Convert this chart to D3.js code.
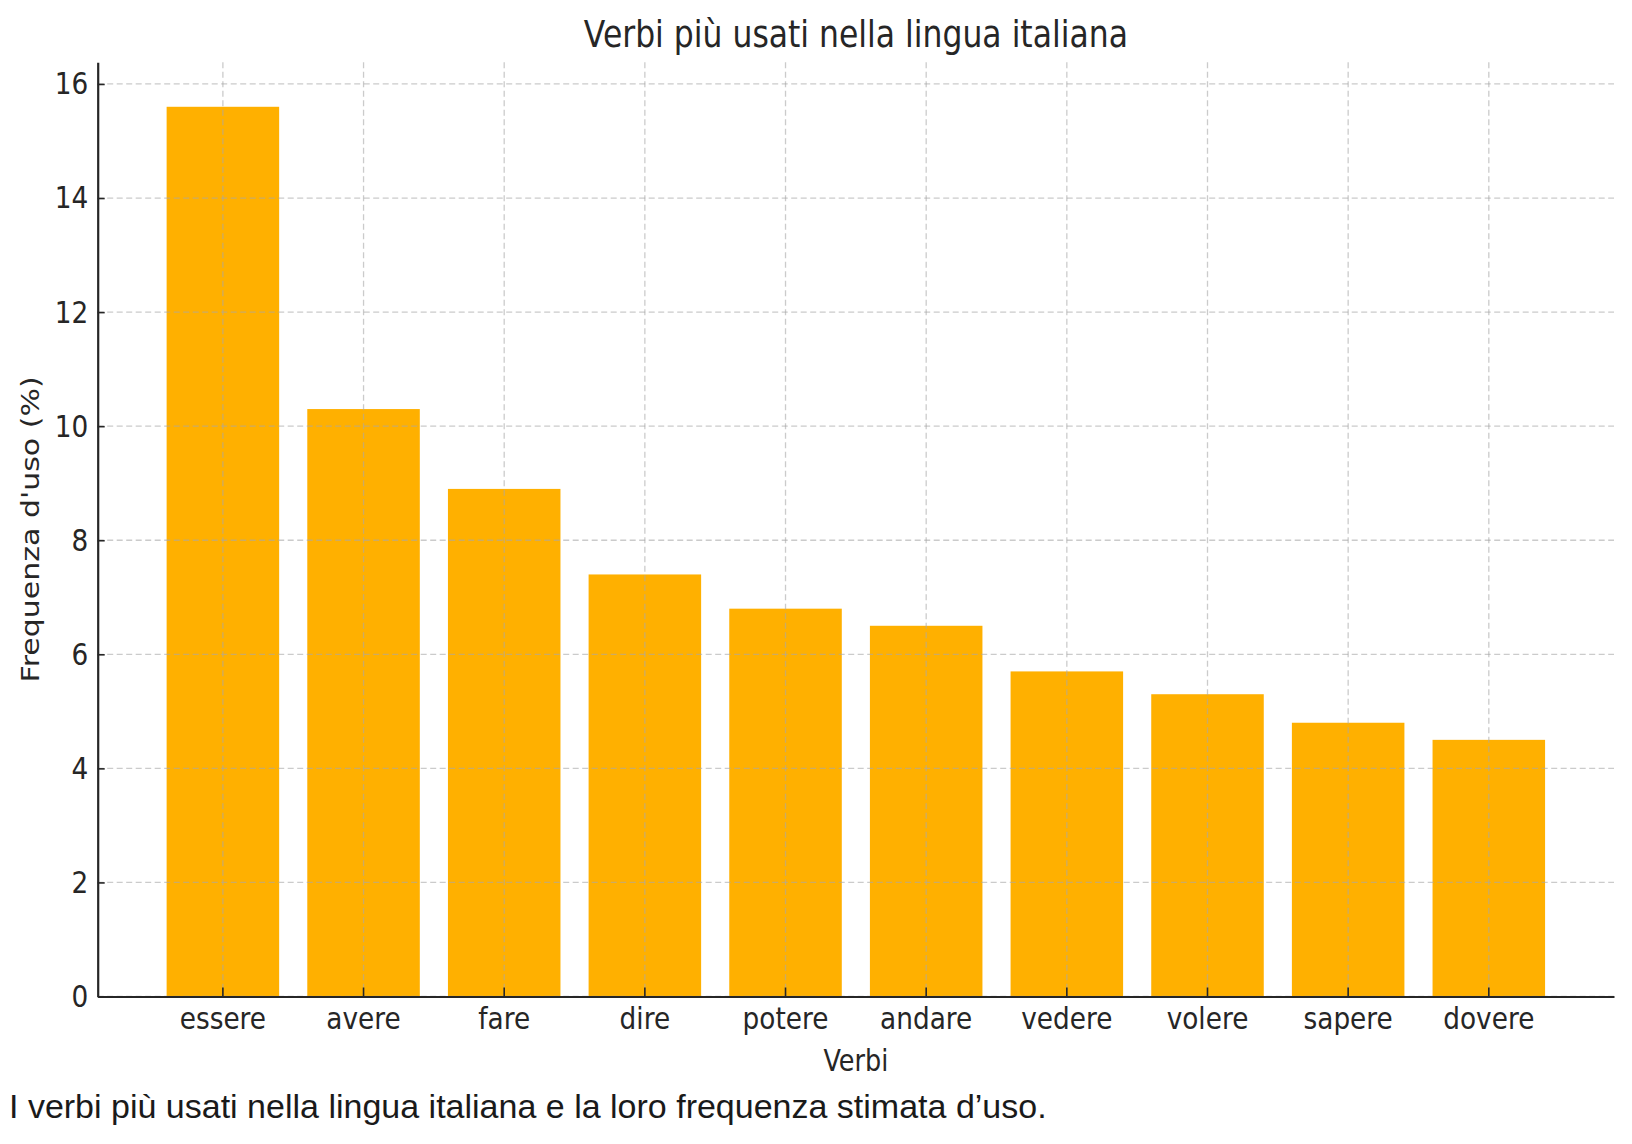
<!DOCTYPE html>
<html>
<head>
<meta charset="utf-8">
<script src="https://cdn.jsdelivr.net/npm/d3@7"></script>
<style>
  body { margin: 0; background: #fff; }
</style>
</head>
<body>
<div id="chart"></div>
<script>
var width = 1632;
var height = 1144;

var left = 97.7, right = 1614, top_ = 62.3, bottom = 996.5;
var sx = 0.85; // testo un po' stretto in orizzontale

var verbi = ["essere", "avere", "fare", "dire", "potere", "andare", "vedere", "volere", "sapere", "dovere"];
var frequenze = [15.6, 10.3, 8.9, 7.4, 6.8, 6.5, 5.7, 5.3, 4.8, 4.5];
var tick_y = [0, 2, 4, 6, 8, 10, 12, 14, 16];

var titolo = "Verbi più usati nella lingua italiana";
var label_x = "Verbi";
var label_y = "Frequenza d'uso (%)";
var didascalia = "I verbi più usati nella lingua italiana e la loro frequenza stimata d’uso.";

var canvas = d3.select("#chart")
				.append("svg")
				.attr("width", width)
				.attr("height", height)
				.style("font-family", "'DejaVu Sans', sans-serif");

var x = d3.scaleBand()
			.domain(verbi)
			.range([left, right])
			.paddingInner(0.2)
			.paddingOuter(0.49);

var y = d3.scaleLinear()
			.domain([0, d3.max(frequenze) * 1.05])
			.range([bottom, top_]);

var grupo_barre = canvas.append("g");
var grupo_griglia = canvas.append("g");

// Barre

grupo_barre.selectAll("rect")
		.data(verbi)
		.enter()
		.append("rect")
		.attr("x", function(d) { return x(d); })
		.attr("width", x.bandwidth())
		.attr("y", function(d, i) { return y(frequenze[i]); })
		.attr("height", function(d, i) { return y(0) - y(frequenze[i]); })
		.attr("fill", "#ffb000");

// Griglia tratteggiata

grupo_griglia.selectAll("line.h")
		.data(tick_y)
		.enter()
		.append("line")
		.attr("class", "h")
		.attr("x1", left)
		.attr("x2", right)
		.attr("y1", function(d) { return y(d); })
		.attr("y2", function(d) { return y(d); });

grupo_griglia.selectAll("line.v")
		.data(verbi)
		.enter()
		.append("line")
		.attr("class", "v")
		.attr("x1", function(d) { return x(d) + x.bandwidth() / 2; })
		.attr("x2", function(d) { return x(d) + x.bandwidth() / 2; })
		.attr("y1", top_)
		.attr("y2", bottom);

grupo_griglia.selectAll("line")
		.attr("stroke", "#a8a8a8")
		.attr("stroke-opacity", 0.6)
		.attr("stroke-width", 1.3)
		.attr("stroke-dasharray", "6,3.5");

// Assi

var asse_y = canvas.append("g")
		.attr("transform", "translate(" + left + ",0)")
		.call(d3.axisLeft(y).tickValues(tick_y).tickSizeInner(-7).tickSizeOuter(0).tickPadding(11));

var asse_x = canvas.append("g")
		.attr("transform", "translate(0," + bottom + ")")
		.call(d3.axisBottom(x).tickSizeInner(-9).tickSizeOuter(0).tickPadding(10));

canvas.selectAll(".domain").attr("stroke", "#262626").attr("stroke-width", 2.2);
canvas.selectAll(".tick line").attr("stroke", "#262626").attr("stroke-width", 1.6);
canvas.selectAll(".tick text")
		.attr("fill", "#262626")
		.style("font-family", "'DejaVu Sans', sans-serif")
		.style("font-size", "31px")
		.attr("transform", "scale(" + sx + ",1)");

// Titolo e etichette

canvas.append("text")
		.attr("transform", "translate(" + ((left + right) / 2) + ",47) scale(" + sx + ",1)")
		.attr("text-anchor", "middle")
		.attr("fill", "#262626")
		.style("font-size", "37px")
		.text(titolo);

canvas.append("text")
		.attr("transform", "translate(" + ((left + right) / 2) + ",1071) scale(" + sx + ",1)")
		.attr("text-anchor", "middle")
		.attr("fill", "#262626")
		.style("font-size", "30px")
		.text(label_x);

canvas.append("text")
		.attr("transform", "translate(39," + ((top_ + bottom) / 2) + ") scale(" + sx + ",1) rotate(-90)")
		.attr("text-anchor", "middle")
		.attr("fill", "#262626")
		.style("font-size", "30px")
		.text(label_y);

canvas.append("text")
		.attr("x", 9)
		.attr("y", 1118)
		.attr("fill", "#1a1a1a")
		.style("font-family", "'Liberation Sans', Arial, sans-serif")
		.style("font-size", "34px")
		.text(didascalia);
</script>
</body>
</html>
